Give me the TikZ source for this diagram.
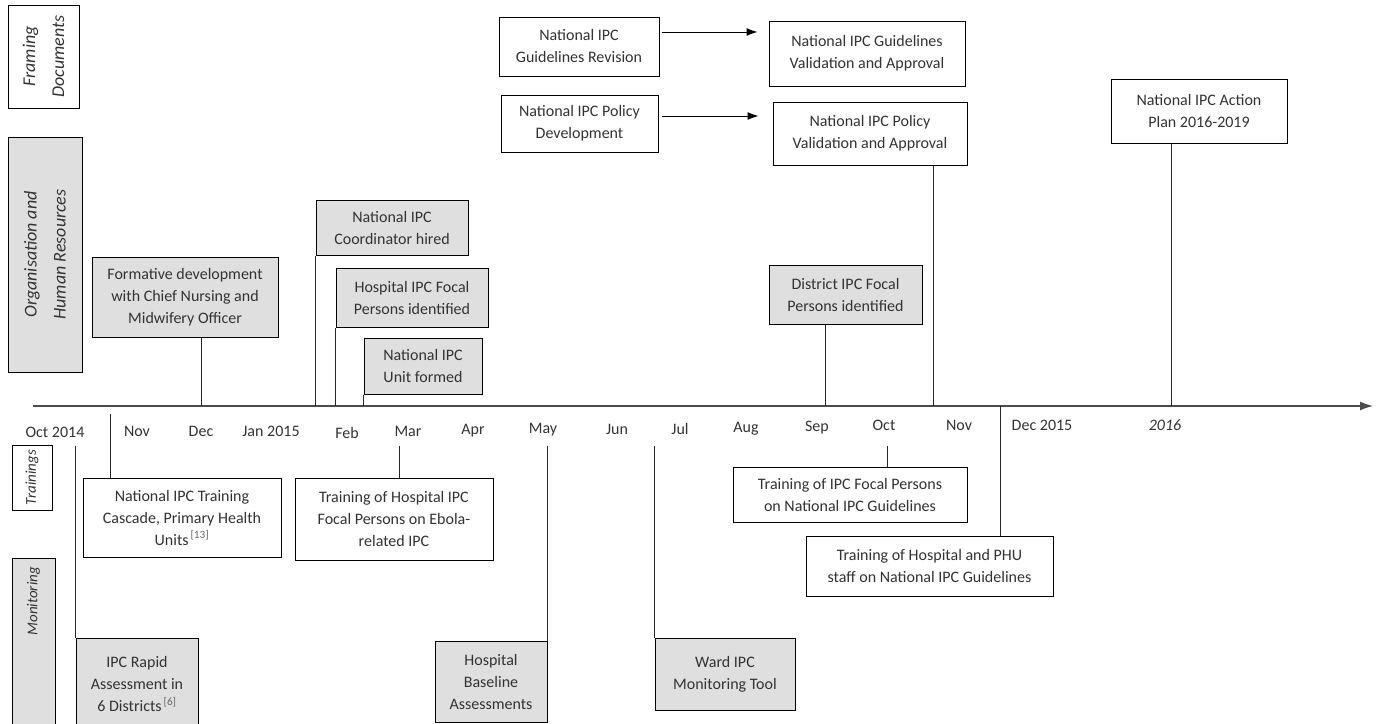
\documentclass[tikz,border=0pt]{standalone}
\usepackage{fontspec}
\setmainfont{Carlito}
\usetikzlibrary{positioning, arrows.meta}
\tikzset{
    event/.style={draw, rectangle, fill=white, align=center, inner sep=2pt, line width=1pt, text=black!80},
    orgevent/.style={event, fill=gray!25},
    category/.style={draw, rectangle, rotate=90, align=center, line width=1pt, text=black!80,
        font=\fontsize{18}{29}\selectfont\itshape},
    smallcat/.style={category, font=\fontsize{15}{20}\selectfont\itshape},
    month/.style={text=black!80},
    link/.style={line width=1pt, black!85},
    flow/.style={-{Latex[length=11pt,width=8pt]}, line width=1pt},
    timeline/.style={-{Latex[length=13pt,width=9pt]}, line width=1.3pt, black!70}
}
\newcommand{\refnum}[1]{\textsuperscript{\,\color{black!60}[#1]}}

\begin{document}
\begin{tikzpicture}[x=1pt, y=-1pt, font=\fontsize{16}{22}\selectfont]
    \useasboundingbox (0,0) rectangle (1376,723);
    % ---- rows
    \coordinate (tstart) at (33,406);
    \coordinate (tend) at (1373,406);
    \coordinate (ax) at (0,406);
    \coordinate (nearrow) at (0,414);
    \coordinate (lowrow) at (0,446);
    % ---- categories
    \node[category, minimum width=103, minimum height=71] (framing) at (43.5,56.5) {Framing\\Documents};
    \node[category, fill=gray!25, minimum width=235, minimum height=74] (orghr) at (45,254.5) {Organisation and\\Human Resources};
    \node[smallcat, minimum width=65, minimum height=40] (trainings) at (32,477.5) {Trainings};
    \node[smallcat, fill=gray!25, minimum width=180, minimum height=43, inner xsep=9pt, text width=162pt, align=right] (monitoring) at (33.5,648) {Monitoring};
    % ---- timeline
    \draw[timeline] (tstart) -- (tend);
    \foreach \lbl/\xx/\yy [count=\i] in {Oct 2014/55/432, Nov/137/431, Dec/201/431, Jan 2015/271/431,
        Feb/347/433, Mar/408/431, Apr/473/431, May/543/430, Jun/617/429, Jul/680/429,
        Aug/746/429, Sep/817/428, Oct/884/425, Nov/959/425, Dec 2015/1042/425}
        \node[month] (month-\i) at (\xx,\yy) {\lbl};
    \node[month, font=\fontsize{16}{22}\selectfont\itshape] (year2016) at (1165,425) {2016};
    % ---- framing documents
    \node[event, minimum width=160, minimum height=59] (grev) at (579,46.5) {National IPC\\Guidelines Revision};
    \node[event, minimum width=196, minimum height=65] (gval) at (867,53.5) {National IPC Guidelines\\Validation and Approval};
    \node[event, minimum width=157, minimum height=57] (pdev) at (579.5,123.5) {National IPC Policy\\Development};
    \node[event, minimum width=194, minimum height=63] (pval) at (870,133.5) {National IPC Policy\\Validation and Approval};
    \node[event, minimum width=176, minimum height=64] (plan) at (1199,111) {National IPC Action\\Plan 2016-2019};
    \draw[flow, shorten <=2pt, shorten >=11pt] ([yshift=14.5]grev.east) -- ([yshift=14.5]grev.east -| gval.west);
    \draw[flow, shorten <=3pt, shorten >=14pt] ([yshift=7.5]pdev.east) -- ([yshift=7.5]pdev.east -| pval.west);
    \draw[link] ([xshift=63]pval.south) -- ([xshift=63]pval.south |- ax);
    \draw[link] ([xshift=-28]plan.south) -- ([xshift=-28]plan.south |- ax);
    % ---- organisation and human resources
    \node[orgevent, minimum width=186, minimum height=80] (cnmo) at (185,297) {Formative development\\with Chief Nursing and\\Midwifery Officer};
    \node[orgevent, minimum width=152, minimum height=55] (coord) at (392,227.5) {National IPC\\Coordinator hired};
    \node[orgevent, minimum width=152, minimum height=59] (hfocal) at (412,297.5) {Hospital IPC Focal\\Persons identified};
    \node[orgevent, minimum width=118, minimum height=56] (unit) at (423,366) {National IPC\\Unit formed};
    \node[orgevent, minimum width=153, minimum height=59] (dfocal) at (845.5,294.5) {District IPC Focal\\Persons identified};
    \draw[link] ([xshift=16]cnmo.south) -- ([xshift=16]cnmo.south |- ax);
    \draw[link] (coord.south west) -- (coord.south west |- ax);
    \draw[link] (hfocal.south west) -- (hfocal.south west |- ax);
    \draw[link] (unit.south west) -- (unit.south west |- ax);
    \draw[link] ([xshift=-20.5]dfocal.south) -- ([xshift=-20.5]dfocal.south |- ax);
    % ---- trainings
    \node[event, minimum width=198, minimum height=79] (cascade) at (182,517.5) {National IPC Training\\Cascade, Primary Health\\Units\refnum{13}};
    \node[event, minimum width=198, minimum height=82] (htrain) at (394,519) {Training of Hospital IPC\\Focal Persons on Ebola-\\related IPC};
    \node[event, minimum width=234, minimum height=55] (ftrain) at (850,494.5) {Training of IPC Focal Persons\\on National IPC Guidelines};
    \node[event, minimum width=247, minimum height=60] (phutrain) at (929.5,566) {Training of Hospital and PHU\\staff on National IPC Guidelines};
    \draw[link] ([xshift=-72]cascade.north) -- ([xshift=-72]cascade.north |- nearrow);
    \draw[link] ([xshift=5]htrain.north) -- ([xshift=5]htrain.north |- lowrow);
    \draw[link] ([xshift=37]ftrain.north) -- ([xshift=37]ftrain.north |- lowrow);
    \draw[link] ([xshift=70.5]phutrain.north) -- ([xshift=70.5]phutrain.north |- ax);
    % ---- monitoring
    \node[orgevent, minimum width=122, minimum height=92] (rapid) at (137,684) {IPC Rapid\\Assessment in\\6 Districts\refnum{6}};
    \node[orgevent, minimum width=112, minimum height=81] (baseline) at (491,681.5) {Hospital\\Baseline\\Assessments};
    \node[orgevent, minimum width=140, minimum height=72] (ward) at (725,674) {Ward IPC\\Monitoring Tool};
    \draw[link] (rapid.north west) -- (rapid.north west |- lowrow);
    \draw[link] (baseline.north east) -- (baseline.north east |- lowrow);
    \draw[link] (ward.north west) -- (ward.north west |- lowrow);
\end{tikzpicture}
\end{document}
